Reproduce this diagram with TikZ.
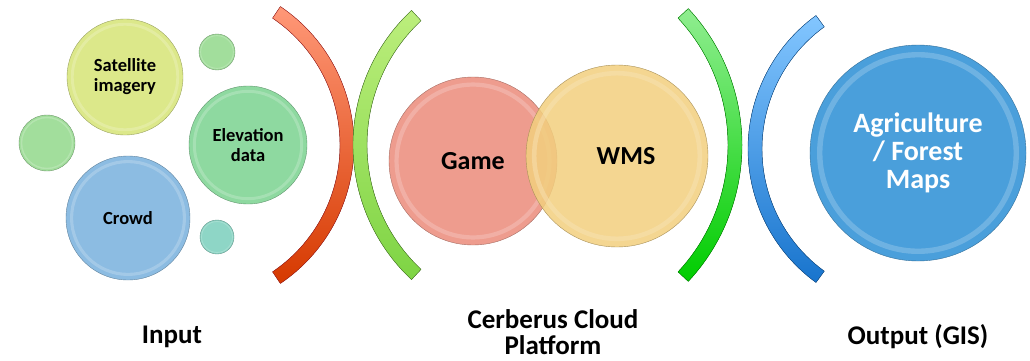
\documentclass[tikz,border=0pt]{standalone}
\usepackage[x11names,rgb]{xcolor}
\usepackage{tikz}
\usetikzlibrary{shapes}
\usetikzlibrary{backgrounds}
\usepackage{fontspec}
\setmainfont{Carlito}

\definecolor{satcol}{HTML}{DCE88A}
\definecolor{elevcol}{HTML}{8ED9A0}
\definecolor{crowdcol}{HTML}{8CBCE2}
\definecolor{dotgreen}{HTML}{A2DE9C}
\definecolor{dotteal}{HTML}{8ED6C6}
\definecolor{gamecol}{HTML}{EE9C8E}
\definecolor{wmscol}{HTML}{F2CF7E}
\definecolor{outcol}{HTML}{4A9FDB}
\definecolor{limetop}{HTML}{BCEE7C}
\definecolor{limebot}{HTML}{7ED444}

\begin{document}
\begin{tikzpicture}[x=1pt,y=1pt,line join=round,
  bubble/.style 2 args={circle,inner sep=0pt,align=center,font=\bfseries,
    minimum size=2*#2,fill=#1,draw=#1!70!black,thin,
    path picture={\draw[#1!55!white,opacity=.45,line width=.05*#2] (path picture bounding box.center) circle[radius=.91*#2];}}]
\tikzstyle{caption} = [font=\fontsize{27}{26}\selectfont\bfseries,align=center]
\tikzstyle{small} = [font=\fontsize{18.5}{20}\selectfont\bfseries]
\tikzstyle{big} = [font=\fontsize{26}{28}\selectfont\bfseries]
\useasboundingbox (0,0) rectangle (1030,360);
% input side
\node[bubble={satcol}{58},small] (sat) at (125,283) {Satellite\\imagery};
\node[bubble={dotgreen}{18}] (dotA) at (217,308) {};
\node[bubble={dotgreen}{28}] (dotB) at (47,217) {};
\node[bubble={elevcol}{59},small] (elev) at (248,215) {Elevation\\data};
\node[bubble={crowdcol}{62},small] (crowd) at (128,142) {Crowd};
\node[bubble={dotteal}{17}] (dotC) at (217,123) {};
\filldraw[draw=Firebrick3!80!black,top color=Salmon1!90!white,bottom color=OrangeRed2!90!black]
  (187,215)+(56:167) arc[start angle=56,end angle=-56,radius=167]
  -- ([shift={(-56:153)}]187,215) arc[start angle=-56,end angle=56,radius=153] -- cycle;
% cloud platform
\filldraw[draw=limebot!60!black,top color=limetop,bottom color=limebot]
  (537,215)+(133:184) arc[start angle=133,end angle=227,radius=184]
  -- ([shift={(227:170)}]537,215) arc[start angle=227,end angle=133,radius=170] -- cycle;
\node[bubble={gamecol}{84},big] (game) at (473,199) {Game};
\node[bubble={wmscol}{91},fill opacity=.85,text opacity=1,big] (wms) at (617,204) {\hspace{18pt}WMS};
\filldraw[draw=Green4,top color=PaleGreen2,bottom color=Green3]
  (542,215)+(43:200) arc[start angle=43,end angle=-43,radius=200]
  -- ([shift={(-43:186)}]542,215) arc[start angle=-43,end angle=43,radius=186] -- cycle;
% output side
\filldraw[draw=DodgerBlue4,top color=SteelBlue1!80!white,bottom color=DodgerBlue3]
  (913,211)+(126:151) arc[start angle=126,end angle=234,radius=151]
  -- ([shift={(234:165)}]913,211) arc[start angle=234,end angle=126,radius=165] -- cycle;
\node[bubble={outcol}{108},text=white,font=\fontsize{28}{28}\selectfont\bfseries] (out) at (918,207) {Agriculture\\/ Forest\\Maps};
% captions
\node[caption] (input) at (172,23) {Input};
\node[caption] (cloud) at (553,28) {Cerberus Cloud\\Platform};
\node[caption] (output) at (918,23) {Output (GIS)};
\end{tikzpicture}
\end{document}
